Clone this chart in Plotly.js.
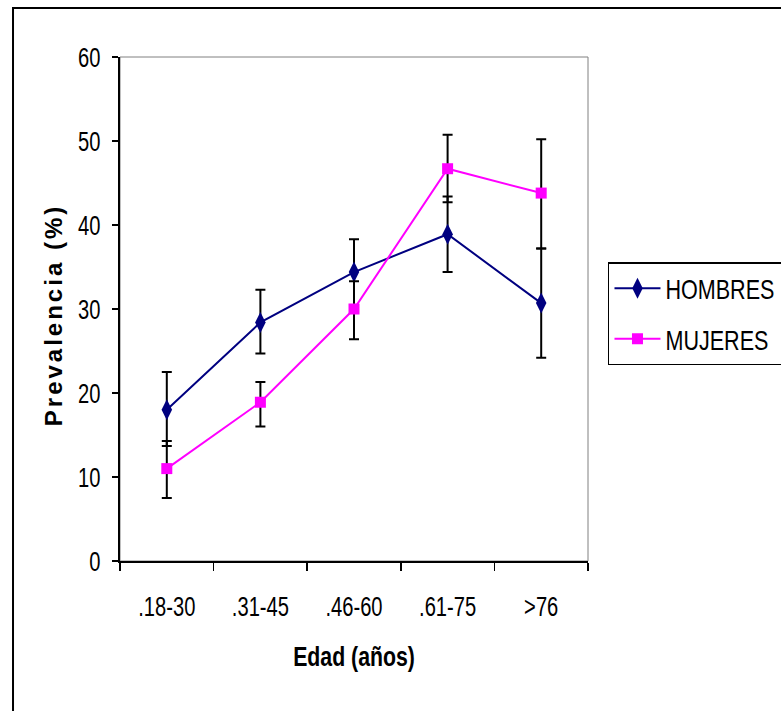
<!DOCTYPE html>
<html>
<head>
<meta charset="utf-8">
<script src="https://cdn.plot.ly/plotly-3.0.1.min.js"></script>
<style>html,body{margin:0;padding:0;background:#fff;}</style>
</head>
<body>
<div id="chart" style="width:781px;height:711px;"></div>
<script>
// Data
const categories = ['.18-30', '.31-45', '.46-60', '.61-75', '>76'];
const hombres = [18.0, 28.4, 34.4, 38.9, 30.7];
const hombresErrPlus = [4.5, 3.9, 3.9, 4.5, 6.5];
const hombresErrMinus = [4.3, 3.7, 4.0, 4.5, 6.5];
const mujeres = [11.0, 18.9, 30.0, 46.7, 43.8];
const mujeresErrPlus = [3.3, 2.4, 3.3, 4.05, 6.4];
const mujeresErrMinus = [3.5, 2.9, 3.6, 4.0, 6.6];
const yTicks = [0, 10, 20, 30, 40, 50, 60];

const sans = '"Liberation Sans", Arial, sans-serif';

const errStyle = (plus, minus) => ({
  type: 'data', symmetric: false, array: plus, arrayminus: minus,
  color: '#000000', thickness: 2, width: 5
});

const traces = [
  {
    x: categories, y: hombres, name: 'HOMBRES', type: 'scatter', mode: 'lines+markers',
    line: {color: '#000080', width: 2},
    marker: {symbol: 'diamond-tall', size: 15, color: '#000080'},
    error_y: errStyle(hombresErrPlus, hombresErrMinus),
    legendgroup: 'h'
  },
  {
    x: categories, y: mujeres, name: 'MUJERES', type: 'scatter', mode: 'lines+markers',
    line: {color: '#FF00FF', width: 2},
    marker: {symbol: 'square', size: 11, color: '#FF00FF'},
    error_y: errStyle(mujeresErrPlus, mujeresErrMinus),
    legendgroup: 'm'
  }
];

const layout = {
  width: 781, height: 711,
  margin: {l: 120, r: 193, t: 57, b: 150, autoexpand: false},
  paper_bgcolor: '#ffffff', plot_bgcolor: '#ffffff',
  font: {family: sans, color: '#000000', size: 24},
  showlegend: true,
  legend: {
    x: 1.0427, xanchor: 'left', y: 0.593, yanchor: 'top',
    bordercolor: '#000000', borderwidth: 1.5, bgcolor: '#ffffff',
    font: {family: sans, size: 28, color: '#000000'},
    traceorder: 'grouped', tracegroupgap: 11, itemwidth: 46
  },
  xaxis: {
    type: 'category', range: [-0.5, 4.5], tickson: 'boundaries', tickangle: 0,
    ticks: 'outside', ticklen: 8, tickwidth: 1.5, tickcolor: '#000000',
    showline: true, linecolor: '#000000', linewidth: 2,
    showgrid: false, zeroline: false, automargin: false,
    tickfont: {family: sans, size: 28, color: '#000000'},
    ticklabelstandoff: 19,
    title: {text: 'Edad (años)', font: {family: sans, size: 28, color: '#000000', weight: 'bold'}, standoff: 26}
  },
  yaxis: {
    range: [0, 60], tickvals: yTicks, ticktext: yTicks.map(String),
    ticks: 'outside', ticklen: 6, tickwidth: 1.5, tickcolor: '#000000',
    showline: true, linecolor: '#000000', linewidth: 2,
    showgrid: false, zeroline: false, automargin: false,
    tickfont: {family: sans, size: 28, color: '#000000'},
    ticklabelstandoff: 6,
    title: {text: 'Prevalencia (%)', font: {family: sans, size: 24, color: '#000000', weight: 'bold'}, standoff: 0}
  },
  shapes: [
    {type: 'rect', xref: 'paper', yref: 'paper', x0: 0, x1: 1, y0: 0, y1: 1,
     line: {color: '#808080', width: 1}, layer: 'below'},
    {type: 'rect', xref: 'paper', yref: 'paper', x0: -0.2286, x1: 1.6, y0: -0.5, y1: 1.0972,
     line: {color: '#000000', width: 2}, layer: 'below'}
  ]
};

function condense(selector, s) {
  document.querySelectorAll(selector).forEach(el => {
    const x = parseFloat(el.getAttribute('x') || '0');
    const tr = el.getAttribute('transform') || '';
    el.setAttribute('transform', (tr + ` translate(${x},0) scale(${s},1) translate(${-x},0)`).trim());
  });
}

Plotly.newPlot('chart', traces, layout, {displayModeBar: false, staticPlot: true}).then(() => {
  condense('.xtick text', 0.72);
  condense('.ytick text', 0.72);
  condense('.legendtext', 0.77);
  condense('.xtitle', 0.76);
  const yt = document.querySelector('.ytitle');
  if (yt) {
    yt.style.letterSpacing = '3px';
    const tr = yt.getAttribute('transform') || '';
    yt.setAttribute('transform', (tr + ' translate(-6,0)').trim());
  }
});
</script>
</body>
</html>
